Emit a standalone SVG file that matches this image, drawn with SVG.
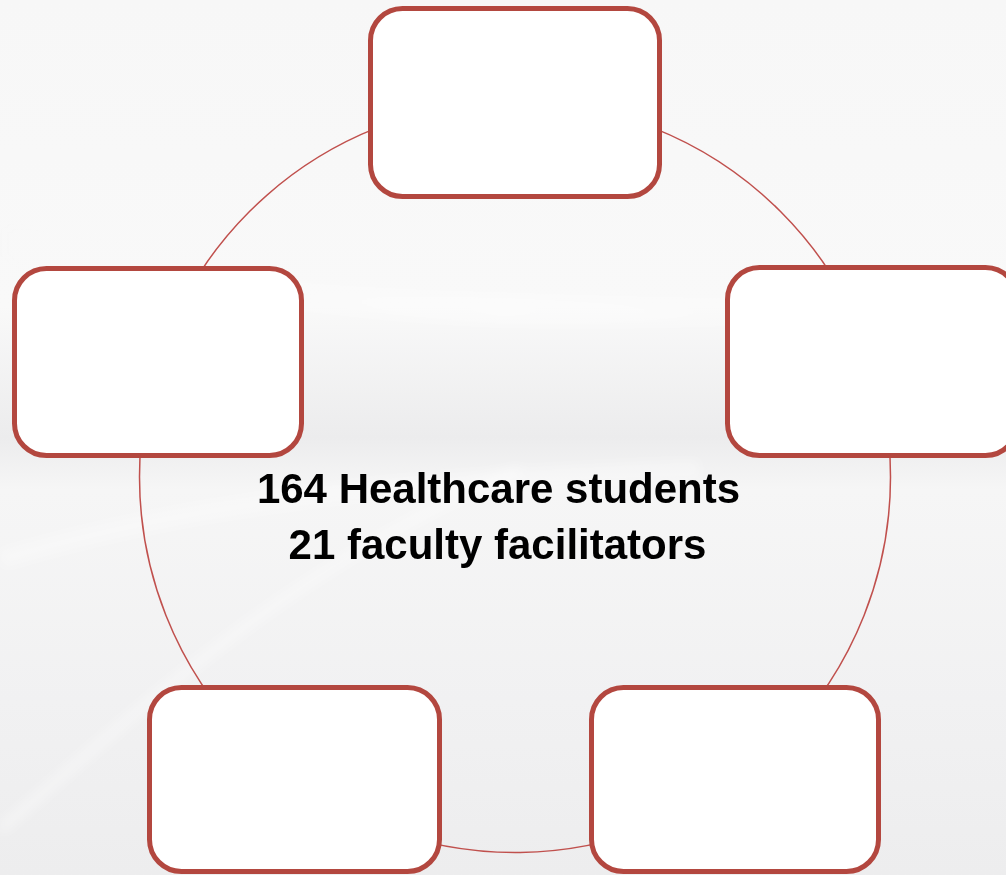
<svg xmlns="http://www.w3.org/2000/svg" width="1006" height="875" viewBox="0 0 1006 875">
  <defs>
    <linearGradient id="bg" x1="0" y1="0" x2="0" y2="1">
      <stop offset="0" stop-color="#f7f7f7"/>
      <stop offset="0.35" stop-color="#f9f9f9"/>
      <stop offset="0.5" stop-color="#ececed"/>
      <stop offset="0.56" stop-color="#f6f6f6"/>
      <stop offset="0.8" stop-color="#f1f1f2"/>
      <stop offset="1" stop-color="#ededee"/>
    </linearGradient>
    <linearGradient id="sheen" x1="0" y1="0" x2="1" y2="0">
      <stop offset="0" stop-color="#ffffff" stop-opacity="0"/>
      <stop offset="0.5" stop-color="#ffffff" stop-opacity="0.8"/>
      <stop offset="1" stop-color="#ffffff" stop-opacity="0"/>
    </linearGradient>
    <filter id="soft" x="-10%" y="-10%" width="120%" height="120%">
      <feGaussianBlur stdDeviation="6"/>
    </filter>
  </defs>
  <style>
    .box { fill: #ffffff; stroke: #b3473f; stroke-width: 5; }
    .ring { fill: none; stroke: #c0504d; stroke-width: 1.5; }
    .label { font-family: "Liberation Sans", Arial, sans-serif; font-weight: bold; font-size: 42px; fill: #000000; text-anchor: middle; }
  </style>
  <rect x="0" y="0" width="1006" height="875" fill="url(#bg)"/>
  <g filter="url(#soft)">
    <path d="M0 240 C 200 300, 500 330, 1006 300" fill="none" stroke="url(#sheen)" stroke-width="30" opacity="0.5"/>
    <path d="M0 830 C 150 700, 300 560, 520 470" fill="none" stroke="#ffffff" stroke-width="12" opacity="0.35"/>
    <path d="M0 560 C 200 500, 400 480, 700 470" fill="none" stroke="#ffffff" stroke-width="20" opacity="0.3"/>
  </g>

  <g id="connectors">
    <circle class="ring" cx="515" cy="477" r="375.5"/>
  </g>

  <g id="node-top">
    <rect class="box" x="370.5" y="8.5" width="289" height="188" rx="32"/>
  </g>
  <g id="node-left">
    <rect class="box" x="14.5" y="268.5" width="287" height="187" rx="32"/>
  </g>
  <g id="node-right">
    <rect class="box" x="727.5" y="267.5" width="290" height="188" rx="32"/>
  </g>
  <g id="node-bottom-left">
    <rect class="box" x="149.5" y="687.5" width="290" height="184" rx="32"/>
  </g>
  <g id="node-bottom-right">
    <rect class="box" x="591.5" y="687.5" width="287" height="184" rx="32"/>
  </g>

  <g id="center-label">
    <text class="label" x="498.5" y="503">164 Healthcare students</text>
    <text class="label" x="497.5" y="559">21 faculty facilitators</text>
  </g>
</svg>
